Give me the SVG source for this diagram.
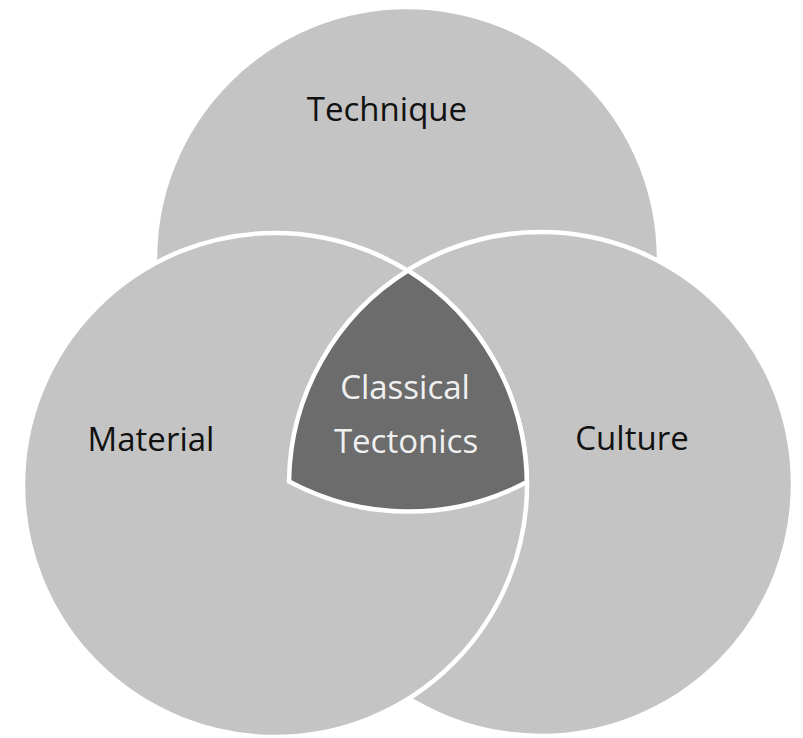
<svg xmlns="http://www.w3.org/2000/svg" width="803" height="738" viewBox="0 0 803 738">
<style>
.set{fill:#c4c4c4;stroke:#ffffff;stroke-width:4.5}
.core{fill:#6c6c6c;stroke:#ffffff;stroke-width:4.5;stroke-linejoin:round}
.lbl{font-family:"Open Sans","Noto Sans",sans-serif;font-size:33px;fill:#111111;text-anchor:middle}
.lblw{font-family:"Open Sans","Noto Sans",sans-serif;font-size:33px;fill:#f0f0f0;text-anchor:middle}
</style>
<rect width="803" height="738" fill="#ffffff"/>
<g id="technique">
<circle class="set" cx="407" cy="259" r="252"/>
<text class="lbl" x="387" y="121">Technique</text>
</g>
<g id="culture">
<circle class="set" cx="541" cy="484" r="252"/>
<text class="lbl" x="632" y="450">Culture</text>
</g>
<g id="material">
<circle class="set" cx="275" cy="485" r="252"/>
<text class="lbl" x="151" y="451">Material</text>
</g>
<g id="classical-tectonics">
<path class="core" d="M408,270.5 A252,252 0 0 0 289,481.6 A252,252 0 0 0 526.8,482 A252,252 0 0 0 408,270.5 Z"/>
<text class="lblw" x="405" y="399">Classical</text>
<text class="lblw" x="406" y="453">Tectonics</text>
</g>
</svg>
